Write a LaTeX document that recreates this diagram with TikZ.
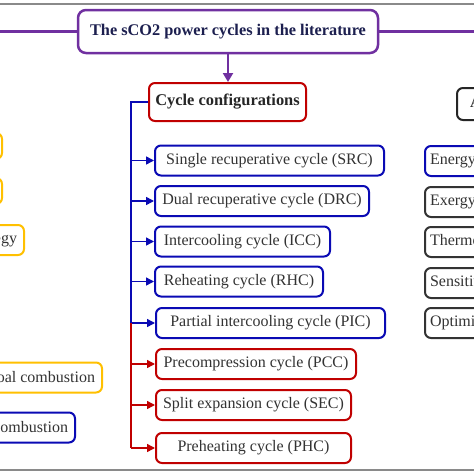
\documentclass[tikz,border=0pt]{standalone}
\usepackage{fontspec}
\setmainfont{Liberation Serif}
\usetikzlibrary{arrows.meta}
\definecolor{pur}{HTML}{7030A0}
\definecolor{cred}{HTML}{C00000}
\definecolor{cblue}{HTML}{0A0AB4}
\definecolor{cyel}{HTML}{FFC000}
\definecolor{txt}{HTML}{333333}
\definecolor{navy}{HTML}{1C1F4F}
\definecolor{gline}{HTML}{8A8A8A}
\begin{document}
\begin{tikzpicture}[x=1pt,y=-1pt,
  base/.style={draw, rounded corners=6pt, line width=2pt, fill=white, inner sep=0pt,
    text=txt, font=\fontsize{16}{19}\selectfont},
  fixbox/.style={base, anchor=west, minimum height=30pt},
  leftbox/.style={base, anchor=east, minimum height=30pt, inner xsep=7pt},
  rightbox/.style={base, anchor=west, minimum height=30pt, inner xsep=5pt, text width=170pt, align=left},
  link/.style={line width=1.5pt},
  tip/.style={-{Triangle[length=8pt,width=8pt]}}
]
\useasboundingbox (0,0) rectangle (474,474);
\clip (0,0) rectangle (474,474);
\fill[white] (0,0) rectangle (474,474);
% frame lines
\draw[gline, line width=2pt] (0,4) -- (474,4);
\draw[gline, line width=2pt] (0,470) -- (474,470);
% title
\node[base, draw=pur, line width=2.5pt, rounded corners=8pt, minimum width=300pt, minimum height=43pt,
  text=navy, font=\fontsize{16.3}{19}\selectfont\bfseries] (title) at (228,31.5)
  {The sCO2 power cycles in the literature};
\coordinate (lend) at (0,31.5);
\coordinate (rend) at (474,31.5);
\draw[pur, line width=2.5pt] (lend) -- (title.west);
\draw[pur, line width=2.5pt] (title.east) -- (rend);
% cycle configurations
\node[base, draw=cred, anchor=west, minimum width=157pt, minimum height=38pt,
  font=\fontsize{16.4}{19}\selectfont\bfseries, text=black!85] (cc) at (148,102) {Cycle configurations};
\draw[pur, line width=2pt, -{Triangle[length=9pt,width=10pt]}] (title.south) -- (cc.north -| title.south);
% children
\node[fixbox, draw=cblue, minimum width=229pt] (src) at (154,160.5) {Single recuperative cycle (SRC)};
\node[fixbox, draw=cblue, minimum width=214pt] (drc) at (154,201) {Dual recuperative cycle (DRC)};
\node[fixbox, draw=cblue, minimum width=175pt] (icc) at (154,241.5) {Intercooling cycle (ICC)};
\node[fixbox, draw=cblue, minimum width=168pt] (rhc) at (154,281.5) {Reheating cycle (RHC)};
\node[fixbox, draw=cblue, minimum width=229pt] (pic) at (155,323) {Partial intercooling cycle (PIC)};
\node[fixbox, draw=cred, minimum width=200pt] (pcc) at (155,364) {Precompression cycle (PCC)};
\node[fixbox, draw=cred, minimum width=195pt] (sec) at (155,405) {Split expansion cycle (SEC)};
\node[fixbox, draw=cred, minimum width=195pt] (phc) at (155,448) {Preheating cycle (PHC)};
% trunk
\coordinate (t) at (131,0);
\draw[cblue, link] (cc.west) -| (t |- pic.west);
\foreach \n in {src,drc,icc,rhc,pic}
  \draw[cblue, link, tip] (t |- \n.west) -- (\n.west);
\draw[cred, link] (t |- pic.west) -- (t |- phc.west);
\foreach \n in {pcc,sec,phc}
  \draw[cred, link, tip] (t |- \n.west) -- (\n.west);
% left column (cut off)
\node[leftbox, draw=cyel, minimum width=120pt, minimum height=26pt] (l1) at (3,146) {};
\node[leftbox, draw=cyel, minimum width=120pt, minimum height=26pt] (l2) at (3,191) {};
\node[leftbox, draw=cyel] (l3) at (25,240) {Strategy};
\node[leftbox, draw=cyel] (l4) at (103,377.5) {Coal combustion};
\node[leftbox, draw=cblue] (l5) at (76,427.5) {Combustion};
% right column (cut off)
\node[rightbox, draw=black!85, minimum height=32pt, font=\fontsize{16}{19}\selectfont\bfseries, inner xsep=13pt] (r0) at (456,104) {Analysis};
\node[rightbox, draw=cblue] (r1) at (424,161) {Energy analysis};
\node[rightbox, draw=black!80] (r2) at (424,202) {Exergy analysis};
\node[rightbox, draw=black!80] (r3) at (424,242) {Thermoeconomic analysis};
\node[rightbox, draw=black!80] (r4) at (424,283) {Sensitivity analysis};
\node[rightbox, draw=black!80] (r5) at (424,323) {Optimization};
\end{tikzpicture}
\end{document}
